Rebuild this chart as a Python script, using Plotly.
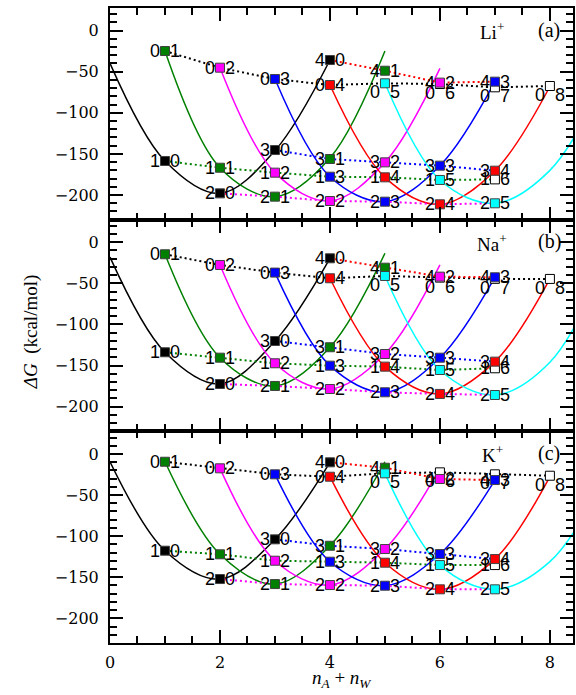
import plotly.graph_objects as go
from plotly.subplots import make_subplots

# ---- point identities (shared by the three panels) ----
N_A = [1, 2, 3, 4, 0, 1, 2, 3, 4, 0, 1, 2, 3, 4, 0, 1, 2, 3, 4, 0, 1, 2, 3, 0, 1, 2, 0, 1, 0, 0]
N_W = [0, 0, 0, 0, 1, 1, 1, 1, 1, 2, 2, 2, 2, 2, 3, 3, 3, 3, 3, 4, 4, 4, 4, 5, 5, 5, 6, 6, 7, 8]

# ---- Delta G values (kcal/mol) ----
DG_LI = [-158.6, -198.0, -145.3, -35.8,
         -24.8, -166.8, -202.0, -156.2, -48.8,
         -45.1, -172.8, -207.3, -160.3, -63.3,
         -58.9, -177.7, -208.1, -164.3, -62.1,
         -66.2, -178.5, -211.3, -170.4,
         -64.1, -181.7, -210.1,
         -65.0, -181.0,
         -69.0,
         -67.4]
DG_NA = [-133.8, -172.4, -120.1, -19.5,
         -14.6, -140.4, -174.8, -127.7, -30.9,
         -27.6, -147.2, -178.5, -135.9, -41.8,
         -36.9, -150.1, -182.5, -140.4, -42.6,
         -43.8, -151.3, -184.5, -145.2,
         -41.0, -155.4, -185.8,
         -43.0, -153.3,
         -44.5,
         -44.6]
DG_K = [-117.7, -152.2, -103.9, -10.2,
        -9.5, -122.1, -158.3, -111.7, -16.8,
        -17.5, -129.9, -159.5, -115.7, -30.5,
        -24.8, -131.1, -160.3, -121.8, -31.8,
        -27.7, -132.3, -164.7, -127.9,
        -23.6, -135.2, -164.7,
        -22.4, -135.2,
        -24.8,
        -26.5]

# ---- fitted curves: values at nA = 0..4 for each nW = 0..5 ----
CURVE_LI = [[-39.8, -158.6, -198.0, -146.0, -35.8],
            [-24.8, -166.8, -202.0, -155.0, -24.8],
            [-45.1, -172.8, -207.3, -160.3, -45.9],
            [-58.9, -177.7, -208.1, -164.3, -62.1],
            [-66.2, -178.5, -211.3, -170.4, -68.0],
            [-64.1, -181.7, -210.1, -170.0, -60.0]]
CURVE_NA = [[-18.0, -133.8, -172.4, -120.1, -19.5],
            [-14.6, -140.4, -174.8, -127.7, -13.4],
            [-27.6, -147.2, -178.5, -135.9, -27.6],
            [-36.9, -150.1, -182.5, -140.4, -42.6],
            [-43.8, -151.3, -184.5, -145.2, -44.6],
            [-41.0, -155.4, -185.8, -146.0, -28.0]]
CURVE_K = [[-9.5, -117.7, -152.2, -103.9, -10.2],
           [-9.5, -122.1, -158.3, -111.7, -9.5],
           [-17.5, -129.9, -159.5, -115.7, -17.5],
           [-24.8, -131.1, -160.3, -121.8, -31.8],
           [-27.7, -132.3, -164.7, -127.9, -27.5],
           [-23.6, -135.2, -164.7, -131.0, -30.0]]

IONS = ["Li<sup>+</sup>", "Na<sup>+</sup>", "K<sup>+</sup>"]
TAGS = ["(a)", "(b)", "(c)"]

COLORS = ['#000000', '#008000', '#ff00ff', '#0000ff', '#ff0000', '#00ffff']

fig = make_subplots(rows=3, cols=1, shared_xaxes=True, vertical_spacing=0)

panels = [(DG_LI, CURVE_LI), (DG_NA, CURVE_NA), (DG_K, CURVE_K)]
annotations = []
xsum = [a + w for a, w in zip(N_A, N_W)]

for row, (dg, curves) in enumerate(panels, start=1):
    xr = 'x' if row == 1 else 'x%d' % row
    yr = 'y' if row == 1 else 'y%d' % row
    # solid curves (one per nW)
    for w, cv in enumerate(curves):
        fig.add_trace(go.Scatter(
            x=[w + a for a in range(len(cv))], y=cv, mode='lines',
            line=dict(color=COLORS[w], width=1.5, shape='spline', smoothing=1.0),
            showlegend=False, hoverinfo='skip'), row=row, col=1)
    # dotted lines (one per nA)
    for a in range(5):
        idx = sorted([i for i in range(len(N_A)) if N_A[i] == a], key=lambda i: N_W[i])
        fig.add_trace(go.Scatter(
            x=[xsum[i] for i in idx], y=[dg[i] for i in idx], mode='lines',
            line=dict(color=COLORS[a], width=2, dash='2px,3px'),
            showlegend=False, hoverinfo='skip'), row=row, col=1)
    # markers: open squares (nW >= 6) first, then coloured ones
    open_idx = [i for i in range(len(N_A)) if N_W[i] >= 6]
    fig.add_trace(go.Scatter(
        x=[xsum[i] for i in open_idx], y=[dg[i] for i in open_idx], mode='markers',
        marker=dict(symbol='square', size=9, color='white', line=dict(color='black', width=1)),
        showlegend=False, hoverinfo='skip'), row=row, col=1)
    col_idx = [i for i in range(len(N_A)) if N_W[i] < 6]
    fig.add_trace(go.Scatter(
        x=[xsum[i] for i in col_idx], y=[dg[i] for i in col_idx], mode='markers',
        marker=dict(symbol='square', size=9, color=[COLORS[N_W[i]] for i in col_idx],
                    line=dict(color='#404040', width=1)),
        showlegend=False, hoverinfo='skip'), row=row, col=1)
    # digit labels
    for i in range(len(N_A)):
        ys = -9 if (N_A[i] == 0 and N_W[i] >= 5) else 0
        common = dict(x=xsum[i], y=dg[i], xref=xr, yref=yr, showarrow=False,
                      font=dict(family='Liberation Sans', size=18, color='black'),
                      yshift=ys, borderpad=0)
        annotations.append(dict(text=str(N_A[i]), xanchor='right', xshift=-4, **common))
        annotations.append(dict(text=str(N_W[i]), xanchor='left', xshift=4, **common))
    # panel labels
    top = 1 - (row - 1) / 3.0
    annotations.append(dict(text=IONS[row - 1], xref='paper', yref='paper', x=0.826, y=top - 0.036,
                            showarrow=False, xanchor='center', yanchor='middle',
                            font=dict(family='Liberation Serif', size=19, color='black')))
    annotations.append(dict(text=TAGS[row - 1], xref='paper', yref='paper', x=0.949, y=top - 0.035,
                            showarrow=False, xanchor='center', yanchor='middle',
                            font=dict(family='Liberation Serif', size=20, color='black')))

annotations.append(dict(text="<i>Δ</i><i>G</i>  (kcal/mol)", xref='paper', yref='paper',
                        x=-0.172, y=0.49, textangle=-90, showarrow=False,
                        xanchor='center', yanchor='middle',
                        font=dict(family='Liberation Serif', size=19, color='black')))
annotations.append(dict(text="<i>n</i><sub><i>A</i></sub> + <i>n</i><sub><i>W</i></sub>",
                        xref='paper', yref='paper', x=0.5, y=-0.056, showarrow=False,
                        xanchor='center', yanchor='middle',
                        font=dict(family='Liberation Serif', size=19, color='black')))

axis_common = dict(ticks='inside', tickwidth=1.5, tickcolor='black', showline=True,
                   linewidth=2, linecolor='black', mirror='ticks', showgrid=False,
                   zeroline=False, tickfont=dict(family='DejaVu Serif', size=16, color='black'))

fig.update_yaxes(range=[-230, 27.5], tick0=0, dtick=50, ticklen=13,
                 minor=dict(dtick=10, tick0=0, ticklen=7, ticks='inside', tickwidth=1.5,
                            tickcolor='black', showgrid=False),
                 ticklabelstandoff=6, **axis_common)
fig.update_xaxes(range=[0, 8.42], tick0=0, dtick=2, ticklen=13,
                 minor=dict(dtick=0.5, tick0=0, ticklen=7, ticks='inside', tickwidth=1.5,
                            tickcolor='black', showgrid=False),
                 ticklabelstandoff=4, **axis_common)

fig.update_layout(width=576, height=695, margin=dict(l=110, r=1, t=8, b=52),
                  plot_bgcolor='white', paper_bgcolor='white', showlegend=False,
                  annotations=annotations)

fig.write_html("out.html")
